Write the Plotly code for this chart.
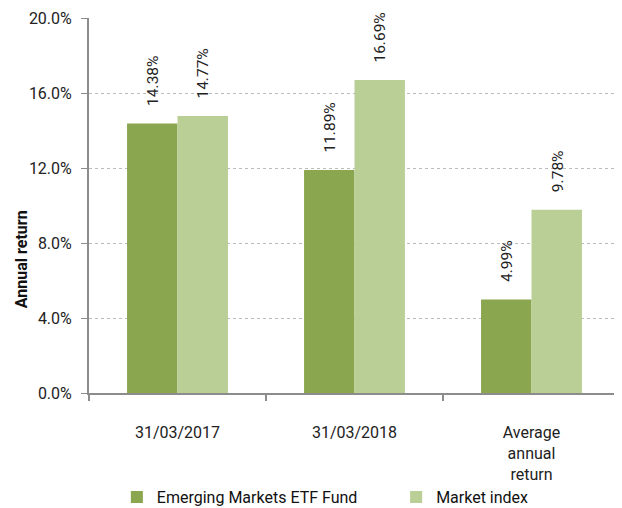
import plotly.graph_objects as go

categories = ["31/03/2017", "31/03/2018", "Average<br>annual<br>return"]
fund_values = [14.38, 11.89, 4.99]
index_values = [14.77, 16.69, 9.78]
series_names = ["Emerging Markets ETF Fund", "Market index"]
y_ticks = [0, 4, 8, 12, 16, 20]
y_title = "Annual return"

dark = "#8AA64E"
light = "#B9CF96"
font = "Roboto, Arial, sans-serif"

fig = go.Figure()
fig.add_trace(go.Bar(x=categories, y=fund_values, name=series_names[0],
                     marker=dict(color=dark, line=dict(width=0)), legend="legend"))
fig.add_trace(go.Bar(x=categories, y=index_values, name=series_names[1],
                     marker=dict(color=light, line=dict(width=0)), legend="legend2"))

for vals, shift in [(fund_values, -24), (index_values, 26)]:
    for c, v in zip(categories, vals):
        fig.add_annotation(x=c, y=v, text=f"{v:.2f}%", showarrow=False,
                           textangle=-90, yanchor="bottom", xanchor="center",
                           xshift=shift, yshift=15,
                           font=dict(family=font, size=15.5, color="#222"))

fig.add_annotation(xref="paper", yref="paper", x=0, y=0.357, xshift=-68,
                   text=f"<b>{y_title}</b>", showarrow=False, textangle=-90,
                   xanchor="center", yanchor="middle",
                   font=dict(family=font, size=16, color="#111"))

legend_common = dict(orientation="h", xanchor="left", xref="container",
                     y=0.037, yanchor="middle", yref="container",
                     font=dict(family=font, size=16, color="#111"),
                     itemwidth=30, bgcolor="rgba(0,0,0,0)")

fig.update_layout(
    width=622, height=508,
    margin=dict(l=81, r=10, t=10, b=123),
    plot_bgcolor="white", paper_bgcolor="white",
    barmode="group", bargap=0.43, bargroupgap=0,
    font=dict(family=font, size=16, color="#222"),
    showlegend=True,
    legend=dict(x=0.175, **legend_common),
    legend2=dict(x=0.624, **legend_common),
)
fig.update_yaxes(range=[0, 20], tickvals=y_ticks,
                 ticktext=[f"{t:.1f}%" for t in y_ticks],
                 showgrid=True, gridcolor="#BBBBBB", griddash="dot", gridwidth=1,
                 showline=True, linecolor="#8C8C8C", linewidth=2,
                 ticks="outside", ticklen=6, tickcolor="#8C8C8C", tickwidth=1,
                 zeroline=False, automargin=False, ticklabelstandoff=6,
                 tickfont=dict(family=font, size=16, color="#222"))
fig.update_xaxes(showline=True, linecolor="#8C8C8C", linewidth=2,
                 ticks="outside", ticklen=6, tickcolor="#8C8C8C", tickwidth=2,
                 tickson="boundaries", automargin=False, ticklabelstandoff=24,
                 tickfont=dict(family=font, size=16, color="#222"))

fig.write_html("out.html")
